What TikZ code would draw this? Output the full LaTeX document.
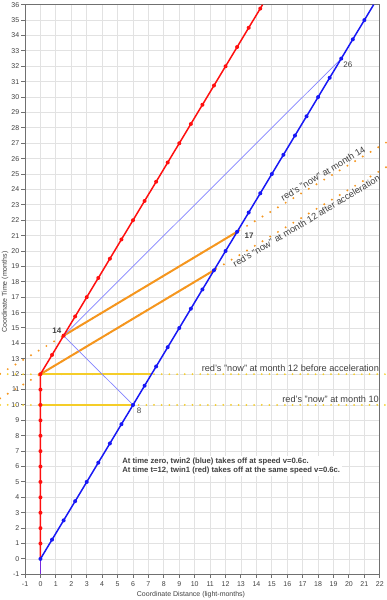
\documentclass[tikz,border=0pt]{standalone}
\usepackage{fontspec}
\setmainfont{Liberation Sans}
\definecolor{gridgray}{RGB}{226,226,226}
\definecolor{framegray}{RGB}{112,112,112}
\definecolor{txtgray}{RGB}{64,64,64}
\definecolor{twinred}{RGB}{255,16,16}
\definecolor{twinblue}{RGB}{24,24,245}
\definecolor{sigblue}{RGB}{130,130,255}
\definecolor{nowor}{RGB}{245,150,30}
\definecolor{nowye}{RGB}{245,205,40}
\definecolor{twinboth}{RGB}{120,40,220}
\begin{document}
\begin{tikzpicture}[x=15.43pt, y=15.4pt,
    gridline/.style={draw=gridgray, line width=0.8pt},
    frame/.style={draw=framegray, line width=1pt},
    ticklab/.style={font=\fontsize{7}{8}\selectfont, text=txtgray, inner sep=0pt},
    axtitle/.style={font=\fontsize{7}{8}\selectfont, text=txtgray, inner sep=0pt},
    worldline/.style={line width=1.5pt},
    nowline/.style={line width=2pt},
    yedots/.style={draw=nowye, line width=2pt, line cap=round, dash pattern=on 0pt off 7.7pt},
    ordots/.style={draw=nowor, line width=2.2pt, line cap=round, dash pattern=on 0pt off 9pt},
    signal/.style={draw=sigblue, line width=0.7pt},
    nowlab/.style={font=\fontsize{9.2}{10}\selectfont, text=txtgray, inner sep=0pt},
    evlab/.style={font=\fontsize{8}{9}\selectfont, text=txtgray, inner sep=0pt},
    note/.style={font=\fontsize{7.7}{9.4}\selectfont\bfseries, text=txtgray, fill=white,
                 align=left, inner xsep=2pt, inner ysep=2pt}]
    \useasboundingbox (-2.623,-2.669) rectangle (22.455,36.305);

    % 网格
    \foreach \x in {-1,...,22} \draw[gridline] (\x,-1) -- (\x,36);
    \foreach \t in {-1,...,36} \draw[gridline] (-1,\t) -- (22,\t);

    % 坐标轴
    \draw[frame] (-1,-1) rectangle (22,36);
    \foreach \x in {-1,...,22} {
        \draw[frame] (\x,-1) -- (\x,-1.25);
        \node[ticklab] (xt\x) at (\x,-1.63) {\x};
    }
    \foreach \t in {-1,...,36} {
        \draw[frame] (-1,\t) -- (-1.25,\t);
        \node[ticklab, anchor=east] (yt\t) at (-1.36,\t) {\t};
    }
    \node[axtitle] (xtitle) at (9.76,-2.3) {Coordinate Distance (light-months)};
    \node[axtitle, rotate=90] (ytitle) at (-2.29,17.33) {Coordinate Time (months)};

    % 事件
    \coordinate (redstart) at (0,-1);
    \coordinate (orig) at (0,0);
    \coordinate (red10) at (0,10);
    \coordinate (turn) at (0,12);
    \coordinate (red14) at (1.5,14.5);
    \coordinate (redtop) at (14.4,36);
    \coordinate (blue8) at (6,10);
    \coordinate (blue12) at (7.2,12);
    \coordinate (blue15) at (11.25,18.75);
    \coordinate (blue17) at (12.75,21.25);
    \coordinate (blue26) at (19.5,32.5);
    \coordinate (bluetop) at (21.6,36);

    % "now" 虚线
    \coordinate (y10l) at (-2.62,10);
    \coordinate (y10r) at (22.46,10);
    \coordinate (y12l) at (-2.62,12);
    \coordinate (y12r) at (22.46,12);
    \coordinate (o12l) at (-2.62,10.428);
    \coordinate (o12r) at (22.46,25.476);
    \coordinate (o14l) at (-2.62,12.028);
    \coordinate (o14r) at (22.46,27.076);
    \draw[yedots] (y10l) -- (y10r);
    \draw[yedots] (y12l) -- (y12r);
    \draw[ordots] (o12l) -- (o12r);
    \draw[ordots] (o14l) -- (o14r);

    % "now" 实线
    \draw[nowline, nowye] (red10) -- (blue8);
    \draw[nowline, nowye] (turn) -- (blue12);
    \draw[nowline, nowor] (turn) -- (blue15);
    \draw[nowline, nowor] (red14) -- (blue17);

    % 光信号
    \draw[signal] (blue8) -- (red14);
    \draw[signal] (red14) -- (blue26);

    % 世界线
    \draw[worldline, twinred] (orig) -- (turn) -- (redtop);
    \draw[worldline, twinblue] (orig) -- (bluetop);
    \draw[worldline, twinboth] (redstart) -- (orig);
    \foreach \t in {1,...,11} \fill[twinred] (0,\t) circle (2pt);
    \foreach \k in {0,...,19} \fill[twinred] (0.75*\k,12+1.25*\k) circle (2pt);
    \foreach \k in {0,...,28} \fill[twinblue] (0.75*\k,1.25*\k) circle (2pt);

    % 标注
    \node[evlab, font=\fontsize{8}{9}\selectfont\bfseries] (l14) at (1.06,14.82) {14};
    \node[evlab, font=\fontsize{8}{9}\selectfont\bfseries] (l17) at (13.52,20.98) {17};
    \node[evlab] (l26) at (19.93,32.12) {26};
    \node[evlab] (l8) at (6.39,9.62) {8};

    \node[nowlab, anchor=base east] (n10) at (21.95,10.15) {red's "now" at month 10};
    \node[nowlab, anchor=base east] (n12b) at (21.96,12.15) {red's "now" at month 12 before acceleration};
    \node[nowlab, anchor=base east, rotate=30.96] (n14) at (21.12,26.46) {red's "now" at month 14};
    \node[nowlab, anchor=north east, rotate=30.96] (n12a) at (21.85,24.98) {red's "now" at month 12 after acceleration};

    \node[note, anchor=west] (txt) at (5.17,6.03) {At time zero, twin2 (blue) takes off at speed v=0.6c.\\At time t=12, twin1 (red) takes off at the same speed v=0.6c.};
\end{tikzpicture}
\end{document}
